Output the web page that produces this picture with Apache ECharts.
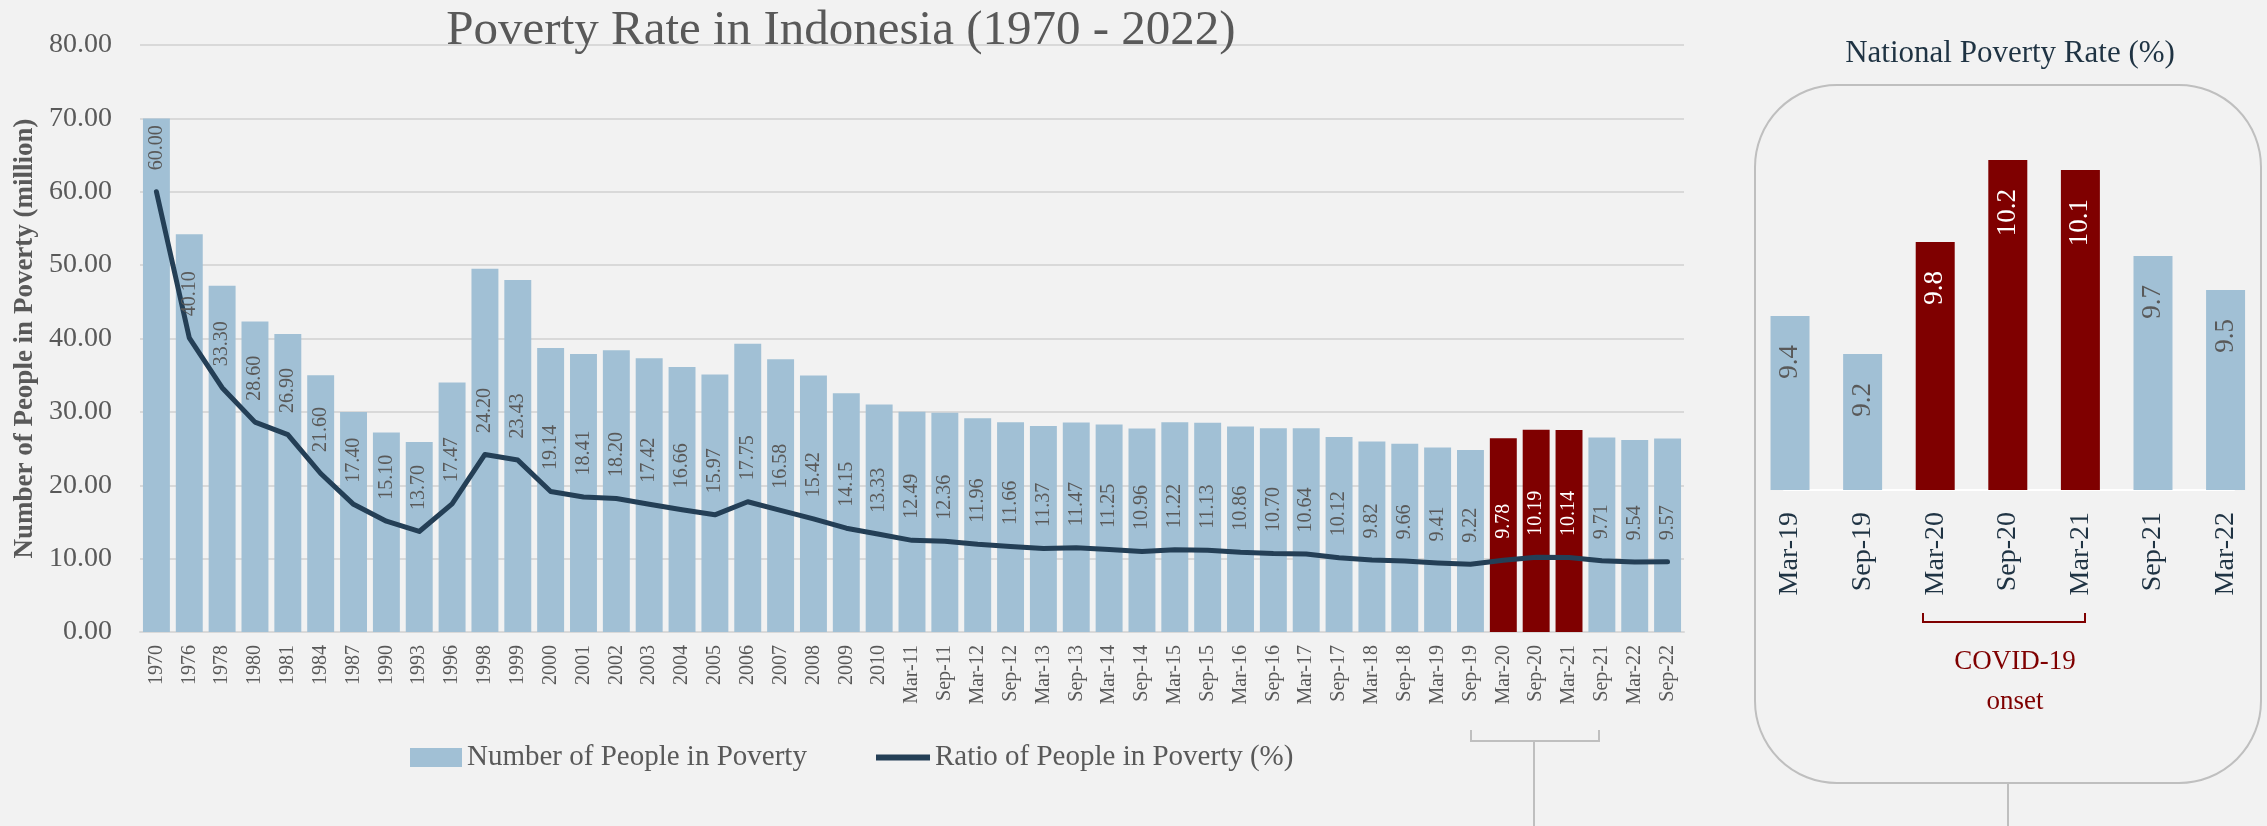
<!DOCTYPE html>
<html><head><meta charset="utf-8">
<script src="https://cdn.jsdelivr.net/npm/echarts@6.0.0/dist/echarts.min.js"></script>
<style>html,body{margin:0;padding:0;background:#F2F2F2}#c{width:2267px;height:826px}</style>
</head><body><div id="c"></div>
<script>
const categories = ['1970','1976','1978','1980','1981','1984','1987','1990','1993','1996','1998','1999','2000','2001','2002','2003','2004','2005','2006','2007','2008','2009','2010',
  'Mar-11','Sep-11','Mar-12','Sep-12','Mar-13','Sep-13','Mar-14','Sep-14','Mar-15','Sep-15','Mar-16','Sep-16','Mar-17','Sep-17','Mar-18','Sep-18','Mar-19','Sep-19','Mar-20','Sep-20','Mar-21','Sep-21','Mar-22','Sep-22'];
const peopleMillions = [70.0,54.2,47.2,42.3,40.6,35.0,30.0,27.2,25.9,34.01,49.5,47.97,38.7,37.9,38.4,37.3,36.1,35.1,39.3,37.17,34.96,32.53,31.02,
  30.02,29.89,29.13,28.59,28.07,28.55,28.28,27.73,28.59,28.51,28.01,27.76,27.77,26.58,25.95,25.67,25.14,24.79,26.42,27.55,27.54,26.50,26.16,26.36];
const ratioPercent = [60.00,40.10,33.30,28.60,26.90,21.60,17.40,15.10,13.70,17.47,24.20,23.43,19.14,18.41,18.20,17.42,16.66,15.97,17.75,16.58,15.42,14.15,13.33,
  12.49,12.36,11.96,11.66,11.37,11.47,11.25,10.96,11.22,11.13,10.86,10.70,10.64,10.12,9.82,9.66,9.41,9.22,9.78,10.19,10.14,9.71,9.54,9.57];
const covidPeriods = ['Mar-20','Sep-20','Mar-21'];
const panelCategories = ['Mar-19','Sep-19','Mar-20','Sep-20','Mar-21','Sep-21','Mar-22'];
const panelRates = [9.41,9.22,9.78,10.19,10.14,9.71,9.54];

const BLUE = '#A1C0D5', RED = '#7F0000', NAVY = '#243F56', GREY = '#595959', FONT = 'Liberation Serif';
const isCovid = c => covidPeriods.includes(c);

const chart = echarts.init(document.getElementById('c'), null, {renderer: 'canvas'});
chart.setOption({
  backgroundColor: '#F2F2F2',
  textStyle: {fontFamily: FONT},
  title: [
    {text: 'Poverty Rate in Indonesia (1970 - 2022)', left: 836, top: 2, textAlign: 'center',
     textStyle: {fontFamily: FONT, fontSize: 49, fontWeight: 'normal', color: GREY}},
    {text: 'National Poverty Rate (%)', left: 2005, top: 33, textAlign: 'center',
     textStyle: {fontFamily: FONT, fontSize: 31, fontWeight: 'normal', color: '#1F3343'}}
  ],
  legend: [
    {data: ['Number of People in Poverty'], left: 405, top: 738, itemWidth: 52, itemHeight: 19, icon: 'rect',
     textStyle: {fontFamily: FONT, fontSize: 29, color: GREY}},
    {data: ['Ratio of People in Poverty (%)'], left: 871, top: 738, itemWidth: 54, itemHeight: 6, icon: 'rect',
     textStyle: {fontFamily: FONT, fontSize: 29, color: GREY}}
  ],
  grid: [
    {left: 140, right: 583, top: 45, bottom: 194},
    {left: 1784, right: 33, top: 140, bottom: 336}
  ],
  xAxis: [
    {type: 'category', gridIndex: 0, data: categories,
     axisTick: {show: false}, axisLine: {lineStyle: {color: '#D9D9D9', width: 2}},
     axisLabel: {rotate: 90, interval: 0, fontSize: 20, color: GREY, margin: 13, fontFamily: FONT}},
    {type: 'value', gridIndex: 1, min: -0.083, max: 6.116,
     splitLine: {show: false}, axisTick: {show: false},
     axisLine: {show: true, onZero: false, lineStyle: {color: '#FFFFFF', width: 2}},
     axisLabel: {rotate: 90, fontSize: 28, color: '#1F3343', margin: 22, fontFamily: FONT,
       showMinLabel: false, showMaxLabel: false,
       formatter: v => (Number.isInteger(v) && panelCategories[v]) ? panelCategories[v] : ''}}
  ],
  yAxis: [
    {type: 'value', gridIndex: 0, min: 0, max: 80, interval: 10,
     axisLabel: {formatter: v => v.toFixed(2), fontSize: 28, color: GREY, margin: 28, fontFamily: FONT},
     splitLine: {lineStyle: {color: '#D9D9D9', width: 2}},
     axisLine: {show: false}, axisTick: {show: false},
     name: 'Number of People in Poverty (million)', nameLocation: 'middle', nameGap: 97,
     nameTextStyle: {fontFamily: FONT, fontSize: 27, fontWeight: 'bold', color: GREY}},
    {type: 'value', gridIndex: 1, min: 8.54, max: 10.29, show: false}
  ],
  series: [
    {name: 'Number of People in Poverty', type: 'bar', xAxisIndex: 0, yAxisIndex: 0,
     barCategoryGap: '18%', itemStyle: {color: BLUE},
     data: peopleMillions.map((v, i) => ({value: v, itemStyle: {color: isCovid(categories[i]) ? RED : BLUE}}))},
    {name: 'Ratio of People in Poverty (%)', type: 'line', xAxisIndex: 0, yAxisIndex: 0,
     symbol: 'circle', symbolSize: 1, showSymbol: true, itemStyle: {color: NAVY},
     lineStyle: {color: NAVY, width: 5, cap: 'round', join: 'round'},
     label: {show: true, position: 'top', distance: 21, rotate: 90, align: 'left', verticalAlign: 'middle',
       fontSize: 20, fontFamily: FONT, color: GREY, formatter: p => p.value.toFixed(2)},
     data: ratioPercent.map((v, i) => ({value: v, label: {color: isCovid(categories[i]) ? '#FFFFFF' : GREY}}))},
    {name: 'Panel', type: 'bar', xAxisIndex: 1, yAxisIndex: 1, barWidth: 39, clip: true,
     label: {show: true, position: 'insideTop', distance: 29, rotate: 90, align: 'right', verticalAlign: 'middle',
       fontSize: 27, fontFamily: FONT, formatter: p => p.value[1].toFixed(1)},
     data: panelRates.map((v, i) => ({value: [i, v],
       itemStyle: {color: isCovid(panelCategories[i]) ? RED : BLUE},
       label: {color: isCovid(panelCategories[i]) ? '#FFFFFF' : GREY}}))}
  ],
  graphic: [
    {type: 'rect', shape: {x: 1755, y: 85, width: 506, height: 698, r: 82},
     style: {fill: 'none', stroke: '#BFBFBF', lineWidth: 2}},
    {type: 'line', shape: {x1: 2008, y1: 783, x2: 2008, y2: 826}, style: {stroke: '#BFBFBF', lineWidth: 2}},
    {type: 'polyline', shape: {points: [[1471, 730], [1471, 741], [1599, 741], [1599, 730]]},
     style: {fill: 'none', stroke: '#BFBFBF', lineWidth: 2}},
    {type: 'line', shape: {x1: 1534, y1: 741, x2: 1534, y2: 826}, style: {stroke: '#BFBFBF', lineWidth: 2}},
    {type: 'polyline', shape: {points: [[1923, 613], [1923, 622], [2085, 622], [2085, 613]]},
     style: {fill: 'none', stroke: RED, lineWidth: 2}},
    {type: 'text', x: 2015, y: 662, style: {text: 'COVID-19', fill: RED, font: '27px "Liberation Serif"', textAlign: 'center', textVerticalAlign: 'middle'}},
    {type: 'text', x: 2015, y: 702, style: {text: 'onset', fill: RED, font: '27px "Liberation Serif"', textAlign: 'center', textVerticalAlign: 'middle'}}
  ]
});
</script></body></html>
